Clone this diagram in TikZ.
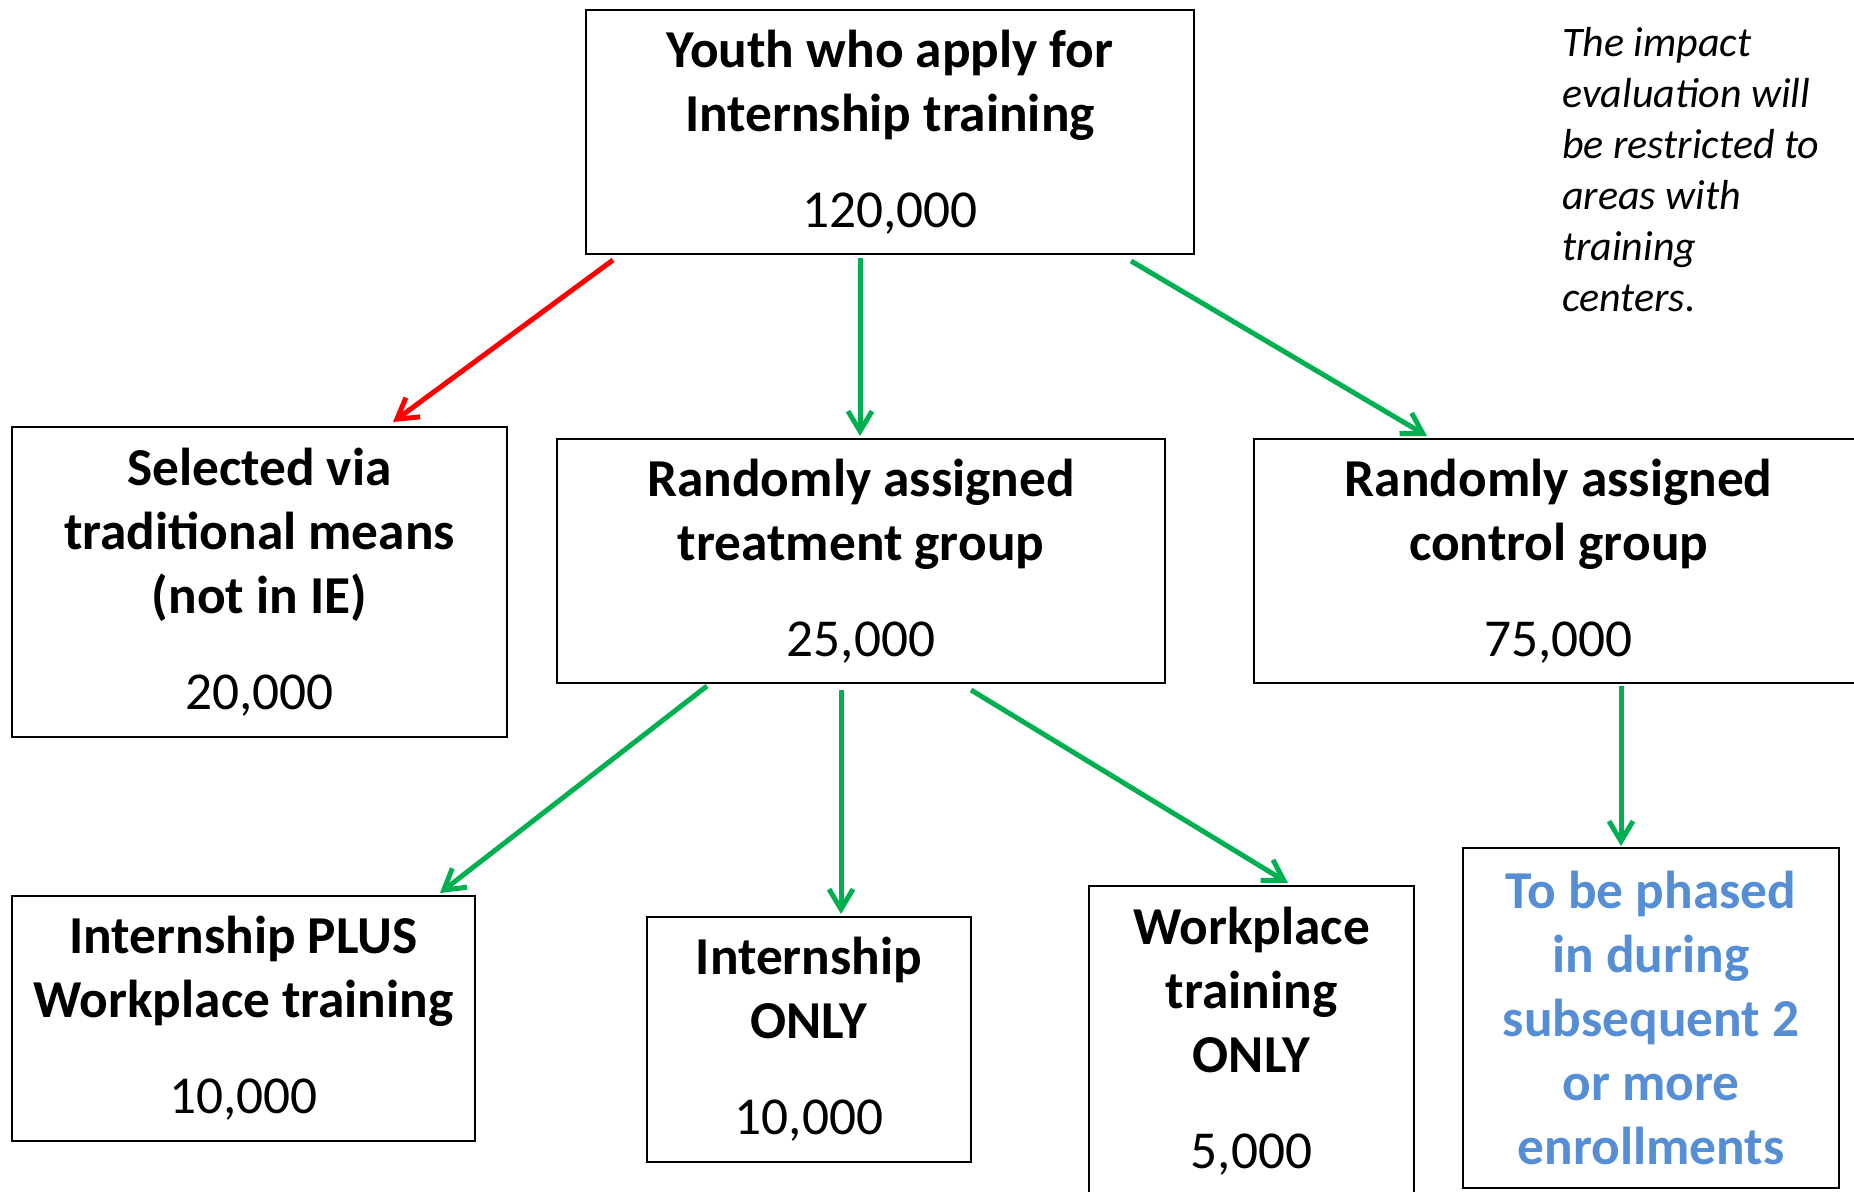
\documentclass[tikz,border=0pt]{standalone}
\usepackage{fontspec}
\setmainfont{Carlito}
\usetikzlibrary{arrows.meta}
\definecolor{arrgreen}{RGB}{0,176,80}
\definecolor{arrred}{RGB}{255,0,0}
\definecolor{phaseblue}{RGB}{85,142,213}
\tikzset{
  box/.style={draw, line width=1.5pt, inner sep=0pt, align=center,
    font=\fontsize{40}{48}\selectfont, execute at begin node={\rule{0pt}{40pt}}},
  garrow/.style={draw=arrgreen, line width=3.75pt, -{Straight Barb[length=15pt,width=18pt,line width=3.75pt]}},
  rarrow/.style={draw=arrred, line width=3.75pt, -{Straight Barb[length=15pt,width=18pt,line width=3.75pt]}},
  note/.style={inner sep=0pt, align=left, anchor=north west,
    font=\fontsize{31.5}{38.25}\selectfont\itshape}
}
\begin{document}
\begin{tikzpicture}[x=0.75pt,y=-0.75pt]
\useasboundingbox (0,0) rectangle (1854,1192);
\node[box, minimum width=456pt, minimum height=183pt] (top) at (890,132)
  {\textbf{Youth who apply for}\\\textbf{Internship training}\\[24pt]120,000};
\node[box, minimum width=371.25pt, minimum height=232.5pt] (sel) at (259.5,582)
  {\textbf{Selected via}\\\textbf{traditional means}\\\textbf{(not in IE)}\\[24pt]20,000};
\node[box, minimum width=456pt, minimum height=183pt] (treat) at (861,561)
  {\textbf{Randomly assigned}\\\textbf{treatment group}\\[24pt]25,000};
\node[box, minimum width=462pt, minimum height=183pt] (ctrl) at (1562,561)
  {\hspace*{-5pt}\textbf{Randomly assigned}\\\hspace*{-5pt}\textbf{control group}\\[24pt]\hspace*{-5pt}75,000};
\node[box, minimum width=347.25pt, minimum height=183.75pt] (plus) at (243.5,1018.5)
  {\textbf{Internship PLUS}\\\textbf{Workplace training}\\[24pt]10,000};
\node[box, minimum width=243pt, minimum height=183.75pt] (io) at (809,1039.5)
  {\textbf{Internship}\\\textbf{ONLY}\\[24pt]10,000};
\node[box, minimum width=243.75pt, minimum height=232.5pt] (wp) at (1251.5,1041)
  {\textbf{Workplace}\\\textbf{training}\\\textbf{ONLY}\\[24pt]5,000};
\node[box, minimum width=282pt, minimum height=255pt, text=phaseblue] (ph) at (1651,1018)
  {\textbf{To be phased}\\\textbf{in during}\\\textbf{subsequent 2}\\\textbf{or more}\\\textbf{enrollments}};
\node[note] (nt) at (1562,27)
  {The impact\\evaluation will\\be restricted to\\areas with\\training\\centers.};
\draw[rarrow] ([xshift=21pt,yshift=-3.75pt]top.south west) -- ([xshift=286.5pt,yshift=3pt]sel.north west);
\draw[garrow] ([xshift=206.25pt,yshift=-2.25pt]top.south west) -- ([xshift=228pt,yshift=1.5pt]treat.north west);
\draw[garrow] ([xshift=409.5pt,yshift=-4.5pt]top.south west) -- ([xshift=130.5pt,yshift=1.5pt]ctrl.north west);
\draw[garrow] ([xshift=113.25pt,yshift=-1.5pt]treat.south west) -- ([xshift=321.75pt,yshift=1.5pt]plus.north west);
\draw[garrow] ([xshift=213.75pt,yshift=-4.5pt]treat.south west) -- ([xshift=146.25pt,yshift=1.5pt]io.north west);
\draw[garrow] ([xshift=311.25pt,yshift=-4.5pt]treat.south west) -- ([xshift=150pt,yshift=1.5pt]wp.north west);
\draw[garrow] ([xshift=276pt,yshift=-1.5pt]ctrl.south west) -- ([xshift=119.25pt,yshift=0.75pt]ph.north west);
\end{tikzpicture}
\end{document}
